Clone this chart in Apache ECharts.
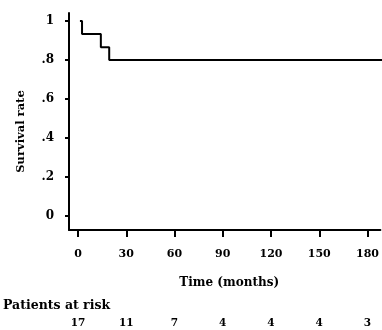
<!DOCTYPE html>
<html>
<head>
<meta charset="UTF-8" />
<title>Survival curve</title>
<style>
  html, body { margin: 0; padding: 0; background: #fff; }
  #chart { width: 382px; height: 330px; }
</style>
</head>
<body>
<div id="chart"></div>
<script src="https://cdn.jsdelivr.net/npm/echarts@6/dist/echarts.min.js"></script>
<script>
// step points of the survival curve (months, rate)
const months = [1.2, 2.5, 14.2, 19.4, 190];
const survival = [1, 0.933, 0.865, 0.80, 0.80];

const xTicks = [0, 30, 60, 90, 120, 150, 180];
const atRisk = [17, 11, 7, 4, 4, 4, 3];
const yTicks = [0, 0.2, 0.4, 0.6, 0.8, 1];

const font = 'DejaVu Serif';
const xMin = -5.6, xMax = 188;

const chart = echarts.init(document.getElementById('chart'));
chart.setOption({
  animation: false,
  title: {
    text: 'Patients at risk',
    left: 3, top: 299, padding: 0,
    textStyle: { fontFamily: font, fontWeight: 'bold', fontSize: 12.5, color: '#000' }
  },
  grid: { left: 69, right: 0, top: 13, bottom: 100 },
  xAxis: [{
    type: 'value', min: xMin, max: xMax,
    name: 'Time (months)', nameLocation: 'middle', nameGap: 47, nameTextStyle: {
      fontFamily: font, fontWeight: 'bold', fontSize: 12, color: '#000', padding: [0, 0, 0, 9]
    },
    axisLine: { onZero: false, lineStyle: { color: '#000', width: 2 } },
    axisTick: { show: true, length: 7, customValues: xTicks, lineStyle: { color: '#000', width: 2 } },
    axisLabel: {
      customValues: xTicks, margin: 19,
      fontFamily: font, fontWeight: 'bold', fontSize: 11, color: '#000'
    },
    splitLine: { show: false }
  }, {
    type: 'value', min: xMin, max: xMax, position: 'bottom',
    axisLine: { show: false, onZero: false }, axisTick: { show: false }, splitLine: { show: false },
    axisLabel: {
      customValues: xTicks, margin: 88,
      fontFamily: font, fontWeight: 'bold', fontSize: 10.5, color: '#000',
      formatter: v => atRisk[xTicks.indexOf(v)]
    }
  }],
  yAxis: {
    type: 'value', min: -0.072, max: 1.041,
    name: 'Survival rate', nameLocation: 'middle', nameGap: 42,
    nameTextStyle: { fontFamily: font, fontWeight: 'bold', fontSize: 11.5, color: '#000', padding: [0, 20, 0, 0] },
    axisLine: { show: true, onZero: false, lineStyle: { color: '#000', width: 2 } },
    axisTick: { show: true, length: 4, customValues: yTicks, lineStyle: { color: '#000', width: 2 } },
    axisLabel: {
      customValues: yTicks, margin: 15, padding: [10, 0, 0, 0],
      fontFamily: font, fontWeight: 'bold', fontSize: 12, color: '#000',
      formatter: v => (v === 0 || v === 1) ? String(v) : String(+v.toFixed(1)).replace('0.', '.')
    },
    splitLine: { show: false }
  },
  series: [{
    type: 'line',
    step: 'end',
    symbol: 'none',
    clip: true,
    lineStyle: { color: '#000', width: 2 },
    data: months.map((m, i) => [m, survival[i]])
  }]
});
</script>
</body>
</html>
